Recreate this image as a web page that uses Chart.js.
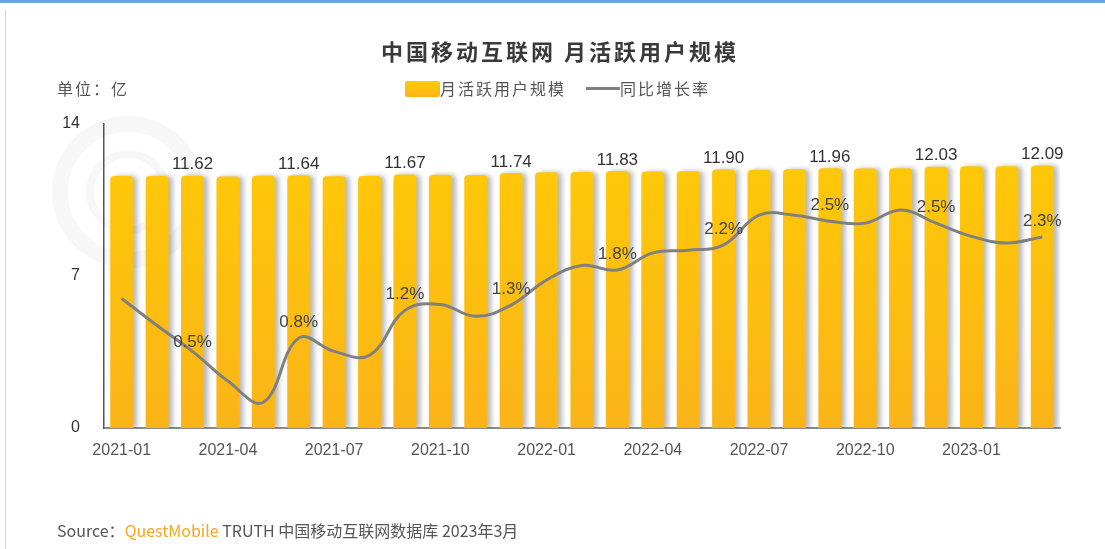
<!DOCTYPE html>
<html>
<head>
<meta charset="utf-8">
<script src="https://cdn.jsdelivr.net/npm/chart.js@4.4.1/dist/chart.umd.min.js"></script>
<style>
  html,body{margin:0;padding:0;background:#fff;}
  #wrap{position:relative;width:1105px;height:549px;overflow:hidden;
    font-family:"Noto Sans CJK SC","Noto Sans",sans-serif;}
  #topline{position:absolute;left:0;top:0;width:1105px;height:3px;background:#6ea6dc;}
  #leftline{position:absolute;left:5px;top:10px;width:1px;height:539px;background:#d6d6d6;}
  #chart{position:absolute;left:0;top:0;}
  .txt{position:absolute;white-space:nowrap;}
  #title{left:0;width:1120px;top:34px;text-align:center;font-size:22px;font-weight:bold;color:#3a3a3a;letter-spacing:3px;}
  #unit{left:57px;top:76px;font-size:16px;color:#555;letter-spacing:2px;}
  #legend{left:405px;top:76px;font-size:16px;color:#555;letter-spacing:2px;}
  #legend .box{display:inline-block;width:35px;height:16px;vertical-align:-2px;
    background:linear-gradient(#ffcb05,#fbb418);border-radius:2px;}
  #legend .ln{display:inline-block;width:34px;height:3px;background:#808080;vertical-align:5px;margin-left:20px;}
  #source{left:57px;top:518px;font-size:16px;color:#555;}
  #source .qm{color:#f5a623;}
</style>
</head>
<body>
<div id="wrap">
  <div id="topline"></div>
  <div id="leftline"></div>
  <canvas id="chart" width="1105" height="549"></canvas>
  <div class="txt" id="title">中国移动互联网 月活跃用户规模</div>
  <div class="txt" id="unit">单位：亿</div>
  <div class="txt" id="legend"><span class="box"></span>月活跃用户规模<span class="ln"></span>同比增长率</div>
  <div class="txt" id="source">Source：<span class="qm">QuestMobile</span> TRUTH 中国移动互联网数据库 2023年3月</div>
</div>
<script>
/* data */
const months = [
  "2021-01","2021-02","2021-03","2021-04","2021-05","2021-06","2021-07","2021-08","2021-09",
  "2021-10","2021-11","2021-12","2022-01","2022-02","2022-03","2022-04","2022-05","2022-06",
  "2022-07","2022-08","2022-09","2022-10","2022-11","2022-12","2023-01","2023-02","2023-03"
];
// 月活跃用户规模（亿）
const mau = [
  11.60,11.61,11.62,11.58,11.62,11.64,11.59,11.60,11.67,
  11.66,11.65,11.74,11.78,11.79,11.83,11.81,11.82,11.90,
  11.89,11.92,11.96,11.95,11.96,12.03,12.06,12.05,12.09
];
// 同比增长率（%）
const yoy = [
  1.36,0.95,0.56,0.11,-0.21,0.76,0.56,0.50,1.18,
  1.27,1.09,1.26,1.64,1.86,1.79,2.05,2.09,2.17,
  2.62,2.62,2.53,2.50,2.70,2.50,2.30,2.20,2.29
];
// 标注的月份与增长率文字
const labelIndex = [2,5,8,11,14,17,20,23,26];
const yoyText = ["0.5%","0.8%","1.2%","1.3%","1.8%","2.2%","2.5%","2.5%","2.3%"];
const yTicks = [0,7,14];

const ctx = document.getElementById("chart");

function barFill(c){
  const a = c.chart.chartArea;
  if(!a) return "#ffc20e";
  const g = c.chart.ctx.createLinearGradient(0,a.top,0,a.bottom);
  g.addColorStop(0,"#ffcb05");
  g.addColorStop(1,"#fbb418");
  return g;
}

/* 水印 */
const watermark = {
  id:"watermark",
  beforeDatasetsDraw(chart){
    const c = chart.ctx;
    c.save();
    c.strokeStyle="rgba(0,0,0,0.03)";
    c.lineWidth=16;
    c.beginPath(); c.arc(128,192,68,0,Math.PI*2); c.stroke();
    c.lineWidth=8;
    c.beginPath(); c.arc(128,192,38,0,Math.PI*2); c.stroke();
    c.restore();
  }
};

/* 柱子阴影 */
const barShadow = {
  id:"barShadow",
  beforeDatasetDraw(chart,args){
    if(args.index!==0) return;
    const c=chart.ctx;
    c.save();
    c.shadowColor="rgba(0,0,0,0.28)";
    c.shadowOffsetX=4;
    c.shadowOffsetY=0;
    c.shadowBlur=5;
  },
  afterDatasetDraw(chart,args){
    if(args.index!==0) return;
    chart.ctx.restore();
  }
};

/* 数值标签 */
const valueLabels = {
  id:"valueLabels",
  afterDatasetsDraw(chart){
    const c=chart.ctx;
    const bars=chart.getDatasetMeta(0).data;
    const pts=chart.getDatasetMeta(1).data;
    c.save();
    c.textAlign="center";
    c.textBaseline="middle";
    c.font='17px "Liberation Sans", Arial, sans-serif';
    labelIndex.forEach((i,k)=>{
      c.fillStyle="#333";
      c.fillText(mau[i].toFixed(2),bars[i].x,bars[i].y-11);
      c.fillStyle="#444";
      c.fillText(yoyText[k],pts[i].x,pts[i].y-(k===0?9:16));
    });
    c.restore();
  }
};

new Chart(ctx,{
  type:"bar",
  data:{
    labels:months,
    datasets:[
      {
        type:"bar",
        label:"月活跃用户规模",
        data:mau,
        backgroundColor:barFill,
        borderRadius:{topLeft:4,topRight:4},
        borderSkipped:"bottom",
        barPercentage:0.65,
        categoryPercentage:1,
        yAxisID:"y",
        order:1
      },
      {
        type:"line",
        label:"同比增长率",
        data:yoy,
        borderColor:"#808080",
        borderWidth:3,
        tension:0.4,
        pointRadius:0,
        fill:false,
        yAxisID:"y2",
        order:0
      }
    ]
  },
  options:{
    responsive:false,
    animation:false,
    layout:{padding:{left:0,top:124,right:45,bottom:0}},
    plugins:{legend:{display:false},title:{display:false},tooltip:{enabled:false}},
    scales:{
      x:{
        grid:{display:false,drawTicks:false},
        border:{display:true,color:"#8a8a8a",width:2},
        ticks:{
          autoSkip:false,maxRotation:0,padding:13,color:"#555",
          font:{family:'"Liberation Sans", Arial, sans-serif',size:16},
          callback:(v,i)=>i%3===0?months[i]:""
        },
        afterFit(s){s.height=121;}
      },
      y:{
        min:0,max:14,
        grid:{display:false,drawTicks:false},
        border:{display:true,color:"#555",width:1.5},
        afterBuildTicks(s){s.ticks=yTicks.map(v=>({value:v}));},
        ticks:{padding:24,color:"#333",font:{family:'"Liberation Sans", Arial, sans-serif',size:16}},
        afterFit(s){s.width=104;}
      },
      y2:{
        display:false,
        min:-0.6,max:4.0
      }
    }
  },
  plugins:[watermark,barShadow,valueLabels]
});
</script>
</body>
</html>
